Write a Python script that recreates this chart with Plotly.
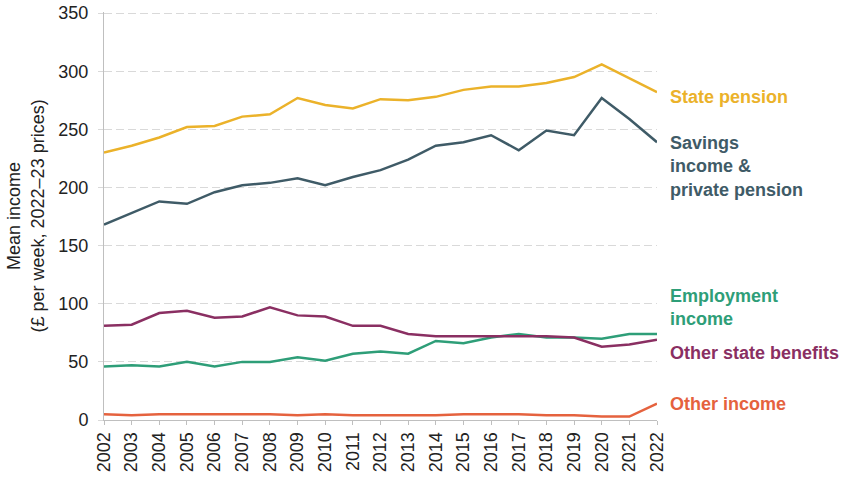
import plotly.graph_objects as go

years = list(range(2002, 2023))

state_pension = [230, 236, 243, 252, 253, 261, 263, 277, 271, 268, 276,
                 275, 278, 284, 287, 287, 290, 295, 306, 294, 282]
savings_private = [168, 178, 188, 186, 196, 202, 204, 208, 202, 209, 215,
                   224, 236, 239, 245, 232, 249, 245, 277, 259, 239]
other_benefits = [81, 82, 92, 94, 88, 89, 97, 90, 89, 81, 81,
                  74, 72, 72, 72, 72, 72, 71, 63, 65, 69]
employment = [46, 47, 46, 50, 46, 50, 50, 54, 51, 57, 59,
              57, 68, 66, 71, 74, 71, 71, 70, 74, 74]
other_income = [5, 4, 5, 5, 5, 5, 5, 4, 5, 4, 4,
                4, 4, 5, 5, 5, 4, 4, 3, 3, 14]
y_ticks = [0, 50, 100, 150, 200, 250, 300, 350]

# (name, values, colour, label text, label y position)
series = [
    ("State pension", state_pension, "#EBB22A", "State pension", 278),
    ("Savings income & private pension", savings_private, "#3F5B67",
     "Savings<br>income &<br>private pension", 218),
    ("Employment income", employment, "#2E9E78", "Employment<br>income", 97),
    ("Other state benefits", other_benefits, "#8A2F62", "Other state benefits", 58),
    ("Other income", other_income, "#E5623E", "Other income", 14),
]

FONT = "Liberation Sans, Arial, sans-serif"

fig = go.Figure()
for name, vals, colour, label, label_y in series:
    fig.add_trace(go.Scatter(x=years, y=vals, mode="lines", name=name,
                             line=dict(color=colour, width=2.5)))
    fig.add_annotation(x=years[-1], y=label_y, xref="x", yref="y",
                       text="<b>" + label + "</b>", showarrow=False,
                       xanchor="left", xshift=11, align="left",
                       font=dict(family=FONT, size=18, color=colour))

# y-axis title as a rotated annotation so it sits where the reference has it
fig.add_annotation(x=-0.142, y=0.5, xref="paper", yref="paper",
                   text="Mean income<br>(£ per week, 2022–23 prices)",
                   textangle=-90, showarrow=False, xanchor="center",
                   yanchor="middle", font=dict(family=FONT, size=18, color="#222222"))

fig.update_layout(
    width=848, height=482,
    margin=dict(l=104, r=191, t=12, b=62),
    plot_bgcolor="white", paper_bgcolor="white",
    showlegend=False,
    font=dict(family=FONT, size=18, color="#222222"),
)
fig.update_xaxes(
    range=[2002, 2022], tickvals=years, ticktext=[str(y) for y in years],
    tickangle=-90, showgrid=False, showline=True, linecolor="#BFBFBF",
    linewidth=1, ticks="outside", tickcolor="#BFBFBF", ticklen=4,
    tickfont=dict(size=18), automargin=False,
)
# range a touch above 350 so the top gridline is still drawn
fig.update_yaxes(
    range=[0, 351], tickvals=y_ticks, showgrid=True, gridcolor="#D9D9D9",
    griddash="8px,4px", gridwidth=1, zeroline=False, showline=True,
    linecolor="#BFBFBF", ticks="outside", tickcolor="#D9D9D9", ticklen=5,
    tickfont=dict(size=18), automargin=False, ticklabelstandoff=6,
    ticklabeloverflow="allow",
)

# drop the default body margin so the figure fills the window exactly
fig.write_html("out.html", config={"displayModeBar": False},
               post_script="document.body.style.margin = '0';")
